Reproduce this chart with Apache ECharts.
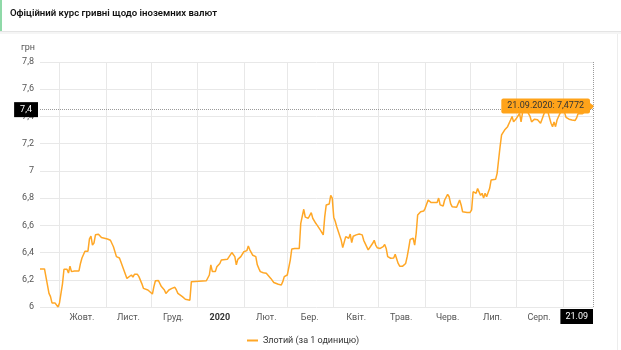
<!DOCTYPE html>
<html>
<head>
<meta charset="utf-8">
<script src="https://cdn.jsdelivr.net/npm/echarts@6/dist/echarts.min.js"></script>
<style>
html,body{margin:0;padding:0;background:#fff;}
#chart{width:621px;height:350px;}
</style>
</head>
<body>
<div id="chart"></div>
<script>
// ---------- data ----------
const chartTitle = 'Офіційний курс гривні щодо іноземних валют';
const seriesName = 'Злотий (за 1 одиницю)';
const unitLabel = 'грн';
const startDate = '2019-09-18';
const endDate = '2020-09-21';

const tickDates  = ['2019-10-16','2019-11-16','2019-12-16','2020-01-16','2020-02-16','2020-03-16','2020-04-16','2020-05-16','2020-06-16','2020-07-16','2020-08-16'];
const tickLabels = ['Жовт.','Лист.','Груд.','2020','Лют.','Бер.','Квіт.','Трав.','Черв.','Лип.','Серп.'];

const yTicks = [6, 6.2, 6.4, 6.6, 6.8, 7, 7.2, 7.4, 7.6, 7.8];

const rateDates = [
'2019-09-18','2019-09-21','2019-09-22','2019-09-24','2019-09-25','2019-09-26','2019-09-28','2019-09-29','2019-09-30',
'2019-10-01','2019-10-03','2019-10-04','2019-10-06','2019-10-07','2019-10-08','2019-10-09','2019-10-11','2019-10-14','2019-10-15','2019-10-16','2019-10-18','2019-10-20','2019-10-21','2019-10-22','2019-10-23','2019-10-24','2019-10-25','2019-10-27','2019-10-28','2019-10-29','2019-10-30','2019-10-31',
'2019-11-02','2019-11-04','2019-11-05','2019-11-06','2019-11-08','2019-11-10','2019-11-11','2019-11-13','2019-11-15','2019-11-16','2019-11-18','2019-11-19','2019-11-20','2019-11-21','2019-11-22','2019-11-23','2019-11-25','2019-11-26','2019-11-29','2019-11-30',
'2019-12-02','2019-12-03','2019-12-04','2019-12-06','2019-12-07','2019-12-08','2019-12-10','2019-12-11','2019-12-12','2019-12-13','2019-12-15','2019-12-17','2019-12-18','2019-12-19','2019-12-20','2019-12-22','2019-12-24','2019-12-25','2019-12-27','2019-12-28','2019-12-29',
'2020-01-07','2020-01-09','2020-01-10','2020-01-11','2020-01-13','2020-01-14','2020-01-16','2020-01-17','2020-01-18','2020-01-21','2020-01-22','2020-01-24','2020-01-25','2020-01-26','2020-01-27','2020-01-28','2020-01-30',
'2020-02-01','2020-02-03','2020-02-04','2020-02-05','2020-02-06','2020-02-07','2020-02-09','2020-02-10','2020-02-11','2020-02-12','2020-02-13','2020-02-14','2020-02-16','2020-02-17','2020-02-19','2020-02-20','2020-02-21','2020-02-22','2020-02-24','2020-02-26','2020-02-27','2020-02-28',
'2020-03-01','2020-03-02','2020-03-03','2020-03-04','2020-03-06','2020-03-09','2020-03-10','2020-03-12','2020-03-13','2020-03-14','2020-03-15','2020-03-17','2020-03-18','2020-03-20','2020-03-21','2020-03-23','2020-03-24','2020-03-25','2020-03-26','2020-03-27','2020-03-29','2020-03-30','2020-03-31',
'2020-04-01','2020-04-02','2020-04-03','2020-04-04','2020-04-06','2020-04-07','2020-04-09','2020-04-10','2020-04-11','2020-04-12','2020-04-13','2020-04-14','2020-04-16','2020-04-18','2020-04-20','2020-04-21','2020-04-22','2020-04-24','2020-04-25','2020-04-27','2020-04-28','2020-04-29','2020-04-30',
'2020-05-02','2020-05-04','2020-05-05','2020-05-06','2020-05-07','2020-05-09','2020-05-11','2020-05-12','2020-05-13','2020-05-14','2020-05-15','2020-05-17','2020-05-19','2020-05-20','2020-05-21','2020-05-22','2020-05-24','2020-05-25','2020-05-26','2020-05-27','2020-05-29','2020-05-31',
'2020-06-01','2020-06-03','2020-06-04','2020-06-05','2020-06-07','2020-06-08','2020-06-09','2020-06-10','2020-06-11','2020-06-13','2020-06-14','2020-06-16','2020-06-17','2020-06-18','2020-06-19','2020-06-22','2020-06-23','2020-06-24','2020-06-25','2020-06-26','2020-06-29',
'2020-07-01','2020-07-02','2020-07-03','2020-07-04','2020-07-05','2020-07-06','2020-07-08','2020-07-09','2020-07-10','2020-07-11','2020-07-12','2020-07-13','2020-07-14','2020-07-15','2020-07-16','2020-07-18','2020-07-19','2020-07-20','2020-07-21','2020-07-22','2020-07-24','2020-07-25','2020-07-26','2020-07-28','2020-07-29','2020-07-30','2020-07-31',
'2020-08-01','2020-08-02','2020-08-03','2020-08-04','2020-08-05','2020-08-06','2020-08-08','2020-08-09','2020-08-10','2020-08-11','2020-08-13','2020-08-14','2020-08-15','2020-08-17','2020-08-18','2020-08-19','2020-08-20','2020-08-21','2020-08-22','2020-08-23','2020-08-24','2020-08-25','2020-08-26','2020-08-27','2020-08-28','2020-08-29','2020-08-30','2020-08-31',
'2020-09-01','2020-09-02','2020-09-03','2020-09-05','2020-09-07','2020-09-09','2020-09-10','2020-09-11','2020-09-14','2020-09-16','2020-09-18','2020-09-20','2020-09-21'
];

const rateValues = [
6.28,6.28,6.27,6.10,6.076,6.03,6.03,6.02,6.00,
6.03,6.17,6.277,6.277,6.25,6.30,6.26,6.265,6.265,6.32,6.36,6.41,6.41,6.50,6.52,6.455,6.47,6.53,6.534,6.53,6.51,6.52,6.505,
6.50,6.49,6.49,6.443,6.37,6.36,6.33,6.27,6.21,6.205,6.235,6.22,6.24,6.235,6.24,6.223,6.17,6.137,6.125,6.125,
6.095,6.15,6.193,6.195,6.19,6.15,6.125,6.10,6.113,6.125,6.137,6.145,6.125,6.10,6.088,6.076,6.057,6.047,6.05,6.186,6.193,
6.193,6.235,6.31,6.26,6.26,6.296,6.32,6.345,6.353,6.35,6.353,6.40,6.406,6.37,6.31,6.35,6.37,
6.406,6.414,6.448,6.42,6.42,6.38,6.37,6.31,6.284,6.26,6.27,6.252,6.248,6.235,6.21,6.198,6.18,6.175,6.167,6.162,6.186,6.223,
6.235,6.235,6.345,6.426,6.43,6.43,6.615,6.718,6.66,6.66,6.652,6.693,6.652,6.615,6.60,6.566,6.553,6.53,6.664,6.75,6.757,6.82,6.80,
6.66,6.63,6.59,6.578,6.49,6.436,6.517,6.505,6.505,6.536,6.473,6.52,6.53,6.536,6.53,6.49,6.48,6.42,6.42,6.468,6.49,6.455,6.436,
6.43,6.443,6.46,6.43,6.37,6.358,6.36,6.387,6.38,6.32,6.30,6.30,6.32,6.37,6.43,6.497,6.505,6.455,6.54,6.676,6.70,6.705,
6.725,6.786,6.79,6.767,6.767,6.78,6.767,6.80,6.75,6.742,6.786,6.828,6.81,6.76,6.737,6.733,6.725,6.786,6.75,6.70,6.695,
6.695,6.713,6.847,6.86,6.835,6.87,6.82,6.835,6.80,6.835,6.81,6.80,6.87,6.933,6.938,6.938,6.98,7.08,7.178,7.264,7.30,7.306,7.325,7.374,7.40,7.36,7.354,
7.387,7.387,7.423,7.36,7.43,7.44,7.44,7.43,7.40,7.36,7.38,7.37,7.375,7.35,7.38,7.41,7.44,7.45,7.43,7.42,7.35,7.325,7.36,7.325,7.374,7.38,7.423,7.44,
7.45,7.43,7.394,7.38,7.374,7.37,7.387,7.42,7.42,7.44,7.45,7.46,7.4772
];

// crosshair (pointer) position shown in the picture
const pointerDate = '2020-09-21';
const pointerValue = 7.45;

// ---------- build ----------
const DAY = 86400000;
const categories = [];
for (let t = Date.parse(startDate + 'T00:00:00Z'); t <= Date.parse(endDate + 'T00:00:00Z'); t += DAY) {
  categories.push(new Date(t).toISOString().slice(0, 10));
}
const rateMap = {};
rateDates.forEach((d, i) => { rateMap[d] = rateValues[i]; });
const seriesData = categories.map(d => (d in rateMap ? rateMap[d] : null));

const comma = v => String(v).replace('.', ',');
const lastValue = rateMap[pointerDate];
const pd = pointerDate.split('-');
const pointerDateShort = pd[2] + '.' + pd[1];
const pointerDateLong = pd[2] + '.' + pd[1] + '.' + pd[0];
const pointerValueLabel = comma(Math.floor(pointerValue * 10) / 10);

const LINE = '#ffa726';
const TIP = '#ffa31a';
const FS = 9;

const chart = echarts.init(document.getElementById('chart'), null, { renderer: 'canvas' });
chart.setOption({
  animation: false,
  textStyle: { fontFamily: 'Roboto' },
  title: {
    text: chartTitle, left: 5, top: 4,
    textStyle: { fontSize: 9.6, fontWeight: 600, color: '#111', fontFamily: 'Roboto' }
  },
  graphic: [
    { type: 'rect', shape: { x: 0, y: 0, width: 2, height: 31 }, style: { fill: '#8fd9a8' }, silent: true },
    { type: 'rect', shape: { x: 0, y: 31, width: 621, height: 1 }, style: { fill: '#e4e4e4' }, silent: true },
    { type: 'rect', shape: { x: 0, y: 32, width: 621, height: 2 }, style: { fill: '#f5f5f5' }, silent: true },
    { type: 'rect', shape: { x: 617, y: 34, width: 1, height: 316 }, style: { fill: '#ededed' }, silent: true }
  ],
  grid: { left: 40, right: 28, top: 62, bottom: 43 },
  legend: {
    bottom: 0, left: 242,
    icon: 'rect', itemWidth: 11, itemHeight: 2, itemGap: 10,
    textStyle: { fontSize: FS, color: '#333' },
    data: [seriesName]
  },
  xAxis: {
    type: 'category',
    data: categories,
    boundaryGap: false,
    axisLine: { show: false },
    axisTick: { show: false },
    axisLabel: {
      interval: (i, v) => tickDates.indexOf(v) >= 0,
      formatter: v => {
        const k = tickDates.indexOf(v);
        const t = tickLabels[k];
        return /^\d+$/.test(t) ? '{b|' + t + '}' : t;
      },
      color: '#555', fontSize: FS, margin: 6,
      rich: { b: { fontWeight: 'bold', color: '#333', fontSize: FS } }
    },
    splitLine: {
      show: true,
      interval: (i, v) => v.slice(8) === '01',
      lineStyle: { color: '#e8e8e8', width: 1 }
    }
  },
  yAxis: {
    type: 'value',
    min: yTicks[0], max: yTicks[yTicks.length - 1], interval: 0.2,
    name: unitLabel, nameLocation: 'end', nameGap: 10,
    nameTextStyle: { align: 'right', color: '#555', fontSize: FS, padding: [0, 5, 0, 0] },
    axisLine: { show: false },
    axisTick: { show: false },
    axisLabel: {
      formatter: v => comma(+v.toFixed(1)),
      color: '#555', fontSize: FS, margin: 6
    },
    splitLine: { lineStyle: { color: '#e8e8e8', width: 1 } }
  },
  series: [{
    type: 'line',
    name: seriesName,
    data: seriesData,
    connectNulls: true,
    showSymbol: false,
    symbol: 'none',
    lineStyle: { color: LINE, width: 1.5 },
    itemStyle: { color: LINE },
    markLine: {
      silent: true,
      symbol: ['none', 'none'],
      lineStyle: { type: 'dotted', color: '#9a9a9a', width: 1 },
      emphasis: { disabled: true },
      data: [
        {
          xAxis: pointerDate,
          label: {
            show: true, position: 'start', formatter: pointerDateShort,
            backgroundColor: '#000', color: '#fff', fontSize: FS,
            padding: [3, 5], align: 'right', distance: 2
          }
        },
        {
          yAxis: pointerValue,
          label: {
            show: true, position: 'start', formatter: pointerValueLabel,
            backgroundColor: '#000', color: '#fff', fontSize: FS,
            padding: [3, 6], distance: 2
          }
        }
      ]
    },
    markPoint: {
      silent: true,
      data: [
        {
          coord: [pointerDate, lastValue],
          symbol: 'circle', symbolSize: 0,
          label: {
            show: true, position: 'left', distance: 3,
            formatter: pointerDateLong + ': ' + comma(lastValue),
            backgroundColor: TIP, color: '#333', fontSize: FS,
            padding: [3, 6], borderRadius: 2
          }
        },
        {
          coord: [pointerDate, lastValue],
          symbol: 'triangle', symbolSize: [6, 4], symbolRotate: -90, symbolOffset: [-1, 0],
          itemStyle: { color: TIP },
          label: { show: false }
        }
      ]
    }
  }]
});
if (rateDates.length !== rateValues.length) console.error('length mismatch', rateDates.length, rateValues.length);
</script>
</body>
</html>
